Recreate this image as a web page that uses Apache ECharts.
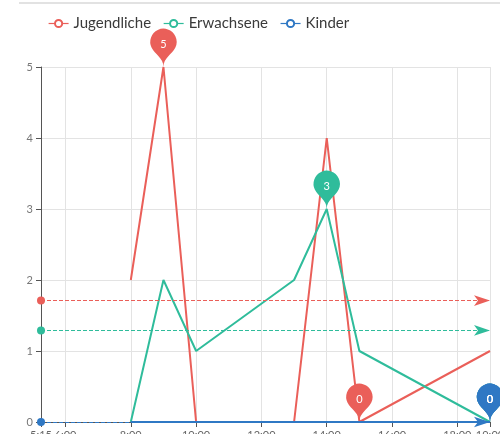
<!DOCTYPE html>
<html><head><meta charset="utf-8">
<script src="https://cdn.jsdelivr.net/npm/echarts@6/dist/echarts.min.js"></script>
<style>html,body{margin:0;padding:0;background:#fff}#c{width:500px;height:434px}</style>
</head><body><div id="c"></div>
<script>
var seriesNames = ['Jugendliche', 'Erwachsene', 'Kinder'];
var times = ['08:00', '09:00', '10:00', '13:00', '14:00', '15:00', '19:00'];
var jugendliche = [2, 5, 0, 0, 4, 0, 1];
var erwachsene = [0, 2, 1, 2, 3, 1, 0];
var kinder = [0, 0, 0, 0, 0, 0, 0];
var axisStart = '05:15';
var axisEnd = '19:00';
var colors = ['#ea5f59', '#2fbc9b', '#2f78c4'];

function ts(hm) { var p = hm.split(':'); return new Date(2023, 4, 15, +p[0], +p[1]).getTime(); }
function pairs(vals) { return times.map(function (t, i) { return [ts(t), vals[i]]; }); }
function lastIndexOf(vals, v) { for (var i = vals.length - 1; i >= 0; i--) if (vals[i] === v) return i; return -1; }
function extremes(vals) {
  var mx = Math.max.apply(null, vals), mn = Math.min.apply(null, vals);
  var imx = lastIndexOf(vals, mx), imn = lastIndexOf(vals, mn);
  return [
    { name: 'max', coord: [ts(times[imx]), mx], value: mx },
    { name: 'min', coord: [ts(times[imn]), mn], value: mn }
  ];
}
var allVals = [jugendliche, erwachsene, kinder];
var chart = echarts.init(document.getElementById('c'));
chart.setOption({
  animation: false,
  color: colors,
  textStyle: { fontFamily: 'Lato' },
  graphic: [{ type: 'rect', left: 19, top: 2, shape: { width: 481, height: 2 }, style: { fill: '#e2e2e2' } }],
  legend: {
    data: seriesNames, left: 43, top: 11, itemGap: 12, itemWidth: 20, itemHeight: 9,
    lineStyle: { width: 1.2 }, itemStyle: { borderWidth: 1.2 },
    textStyle: { fontSize: 15, color: '#3a3a3a', fontFamily: 'Lato' }
  },
  grid: { left: 41, right: 10, top: 67, bottom: 12, outerBoundsMode: 'none', containLabel: false },
  xAxis: {
    type: 'time', min: ts(axisStart), max: ts(axisEnd),
    splitNumber: 5,
    axisLine: { lineStyle: { color: '#555' } },
    axisTick: { lineStyle: { color: '#555' } },
    splitLine: { show: true, lineStyle: { color: '#e3e3e3' } },
    axisLabel: { color: '#666', fontSize: 11, showMinLabel: true, showMaxLabel: true, hideOverlap: false,
      formatter: function (v) { var d = new Date(v); var m = d.getMinutes(); return d.getHours() + ':' + (m < 10 ? '0' + m : m); } }
  },
  yAxis: {
    type: 'value', min: 0, max: 5, interval: 1,
    axisLine: { show: true, lineStyle: { color: '#555' } },
    axisTick: { show: true, lineStyle: { color: '#555' } },
    splitLine: { lineStyle: { color: '#e3e3e3' } },
    axisLabel: { color: '#777', fontSize: 11 }
  },
  series: seriesNames.map(function (n, k) {
    return {
      name: n, type: 'line', data: pairs(allVals[k]),
      symbol: 'emptyCircle', symbolSize: 6, showSymbol: false,
      lineStyle: { width: 2 },
      markPoint: { symbolSize: 44, data: extremes(allVals[k]), label: { color: '#fff', fontSize: 11 } },
      markLine: { data: [{ type: 'average', name: 'avg' }], label: { show: false } }
    };
  })
});
</script></body></html>
